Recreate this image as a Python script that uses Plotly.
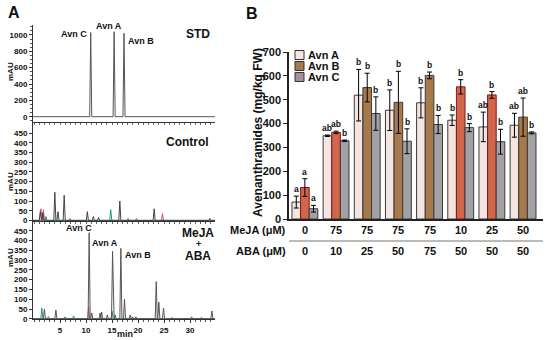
import plotly.graph_objects as go

W, H = 550, 340
FONT = "Arial, Liberation Sans, sans-serif"

# ---------------- Panel A data: chromatogram peaks (retention min, height mAU) ----------------
std_t = [10.9, 15.4, 17.3]
std_h = [1030, 1040, 1020]

ctrl_dark_t = [1.2, 1.7, 4.0, 4.6, 5.8, 10.25, 11.4, 12.4, 16.5, 23.1, 33.8]
ctrl_dark_h = [45, 40, 145, 45, 130, 45, 20, 15, 100, 60, 10]
ctrl_pink_t = [1.3, 1.8, 6.9, 19.7, 24.7]
ctrl_pink_h = [60, 55, 10, 10, 35]
ctrl_green_t = [2.3, 14.75, 18.1]
ctrl_green_h = [20, 55, 10]

mj_dark_t = [2.0, 4.2, 6.0, 10.6, 11.1, 12.7, 13.0, 14.1, 15.1, 15.6, 16.7, 17.4, 18.5, 18.9, 19.6, 23.5, 24.0, 24.9, 30.3, 32.2, 34.2]
mj_dark_h = [50, 45, 10, 440, 30, 30, 35, 20, 345, 20, 360, 100, 20, 10, 10, 190, 85, 55, 10, 8, 40]
mj_pink_t = [2.75, 10.5, 26.5]
mj_pink_h = [12, 60, 8]
mj_green_t = [1.5, 7.6, 15.0]
mj_green_h = [55, 15, 40]

# ---------------- Panel B data ----------------
meja = ["0", "75", "75", "75", "75", "10", "25", "50"]
aba = ["0", "10", "25", "50", "75", "50", "50", "50"]
avn_a = [71, 349, 519, 456, 487, 414, 386, 393]
avn_a_err = [25, 3, 108, 85, 63, 22, 62, 50]
avn_b = [132, 363, 551, 489, 602, 554, 520, 427]
avn_b_err = [37, 5, 60, 130, 14, 30, 14, 80]
avn_c = [43, 328, 442, 326, 396, 383, 324, 361]
avn_c_err = [14, 3, 70, 52, 38, 17, 52, 4]
let_a = ["a", "ab", "b", "b", "b", "b", "ab", "ab"]
let_b = ["a", "ab", "b", "b", "b", "b", "b", "ab"]
let_c = ["a", "b", "b", "b", "b", "b", "b", "b"]
b_is_red = [True, True, False, False, False, True, True, False]


def px(x):
    return x / W


def py(y):
    return 1 - y / H


def chrom(ts, hs, hw=0.2, t0=-0.2, t1=34.8):
    xs, ys = [t0], [0]
    for t, h in sorted(zip(ts, hs)):
        xs += [t - hw, t, t + hw]
        ys += [0, h, 0]
    xs.append(t1)
    ys.append(0)
    return xs, ys


fig = go.Figure()

panels = [
    ("x2", "y2", [(std_t, std_h, "#555555")]),
    ("x3", "y3", [(ctrl_pink_t, ctrl_pink_h, "#d9467a"), (ctrl_green_t, ctrl_green_h, "#1f9a78"),
                  (ctrl_dark_t, ctrl_dark_h, "#444444")]),
    ("x", "y", [(mj_pink_t, mj_pink_h, "#d9467a"), (mj_green_t, mj_green_h, "#1f9a78"),
                (mj_dark_t, mj_dark_h, "#555555")]),
]
for xa, ya, traces in panels:
    for ts, hs, col in traces:
        xs, ys = chrom(ts, hs)
        fig.add_trace(go.Scatter(x=xs, y=ys, mode="lines", line=dict(color=col, width=1),
                                 xaxis=xa, yaxis=ya, showlegend=False, hoverinfo="skip"))

# ---------------- Panel B bars ----------------
xpos = list(range(len(meja)))
b_fill = ["#d0674c" if r else "#a8794a" for r in b_is_red]
b_line = ["#8b1414" if r else "#3a3a3a" for r in b_is_red]
for vals, errs, fill, line, name in [
    (avn_a, avn_a_err, "#f5e5e1", "#3a3a3a", "Avn A"),
    (avn_b, avn_b_err, b_fill, b_line, "Avn B"),
    (avn_c, avn_c_err, "#a2a2a6", "#3a3a3a", "Avn C"),
]:
    fig.add_trace(go.Bar(x=xpos, y=vals, name=name, xaxis="x4", yaxis="y4",
                         marker=dict(color=fill, line=dict(color=line, width=1)),
                         error_y=dict(type="data", array=errs, color="black", thickness=1, width=2.5),
                         showlegend=False))

ann = []
bw = (1 - 0.17) / 3
for k, (vals, errs, lets) in enumerate([(avn_a, avn_a_err, let_a), (avn_b, avn_b_err, let_b),
                                         (avn_c, avn_c_err, let_c)]):
    for i in xpos:
        ann.append(dict(x=i + (k - 1) * bw, y=vals[i] + errs[i], xref="x4", yref="y4",
                        text="<b>%s</b>" % lets[i],
                        showarrow=False, yanchor="bottom", yshift=0,
                        font=dict(size=8.5, family=FONT, color="#111")))

for i in xpos:
    ann.append(dict(x=i, y=py(230), xref="x4", yref="paper", text="<b>%s</b>" % meja[i], showarrow=False,
                    font=dict(size=11, family=FONT, color="#111"), yanchor="middle"))
    ann.append(dict(x=i, y=py(251), xref="x4", yref="paper", text="<b>%s</b>" % aba[i], showarrow=False,
                    font=dict(size=11, family=FONT, color="#111"), yanchor="middle"))


def t(x, y, s, size, xanchor="center", color="#111"):
    ann.append(dict(x=px(x), y=py(y), xref="paper", yref="paper", text=s, showarrow=False,
                    xanchor=xanchor, yanchor="middle", font=dict(size=size, family=FONT, color=color)))


t(288, 230, "<b>MeJA (μM)</b>", 11, "right")
t(288, 251, "<b>ABA (μM)</b>", 11, "right")
t(14, 13, "<b>A</b>", 16)
t(252, 14, "<b>B</b>", 16)
t(89, 34, "<b>Avn C</b>", 9, "right")
t(109, 26, "<b>Avn A</b>", 9)
t(126, 41, "<b>Avn B</b>", 9, "left")
t(198, 34, "<b>STD</b>", 12)
t(187, 142, "<b>Control</b>", 12)
t(198, 233, "<b>MeJA</b>", 12)
t(198, 244, "<b>+</b>", 9)
t(198, 256, "<b>ABA</b>", 12)
t(79, 228, "<b>Avn C</b>", 9)
t(105, 243, "<b>Avn A</b>", 9)
t(138, 255, "<b>Avn B</b>", 9)
t(125, 334, "<b>min</b>", 9)
for yy in [72, 182, 258]:
    ann.append(dict(x=px(10), y=py(yy), xref="paper", yref="paper", text="<b>mAU</b>", textangle=-90,
                    showarrow=False, xanchor="center", yanchor="middle",
                    font=dict(size=8, family=FONT, color="#111")))
ann.append(dict(x=px(258), y=py(133), xref="paper", yref="paper", text="<b>Avenanthramides (mg/kg FW)</b>",
                textangle=-90, showarrow=False, xanchor="center", yanchor="middle",
                font=dict(size=12, family=FONT, color="#111")))

# manual legend
leg = [("Avn A", "#f5e5e1", 55), ("Avn B", "#a8794a", 66), ("Avn C", "#a3929a", 77)]
shapes = []
for name, col, yy in leg:
    shapes.append(dict(type="rect", xref="paper", yref="paper", x0=px(295), x1=px(304),
                       y0=py(yy + 4.5), y1=py(yy - 4.5), fillcolor=col, line=dict(color="#333", width=1)))
    t(306, yy, "<b>%s</b>" % name, 11, "left")

# separator line between MeJA and ABA rows
shapes.append(dict(type="line", xref="paper", yref="paper", x0=px(289), x1=px(543), y0=py(241), y1=py(241),
                   line=dict(color="#777", width=1)))

tickfont_a = dict(size=8, family=FONT, color="#111")
axis_common_a = dict(showline=True, linecolor="#333", linewidth=1, ticks="outside", ticklen=3,
                     tickcolor="#333", showgrid=False, zeroline=False, tickfont=tickfont_a, automargin=False)
xdom_a = [px(33), px(215)]
xr = [-0.2, 34.8]

fig.update_layout(
    width=W, height=H, margin=dict(l=0, r=0, t=0, b=0, pad=0), autosize=False,
    plot_bgcolor="white", paper_bgcolor="white", font=dict(family=FONT),
    barmode="group", bargap=0.17, bargroupgap=0,
    xaxis=dict(domain=xdom_a, range=xr, anchor="y", tickvals=[5, 10, 15, 20, 25, 30],
               ticktext=["<b>%d</b>" % v for v in [5, 10, 15, 20, 25, 30]],
               minor=dict(ticks="outside", ticklen=2, dtick=1, tickcolor="#555"),
               **axis_common_a),
    xaxis2=dict(domain=xdom_a, range=xr, anchor="y2", showticklabels=False, showline=True,
                linecolor="#333", linewidth=1, showgrid=False, zeroline=False, automargin=False,
                ticks="outside", ticklen=2, dtick=1, tickcolor="#666"),
    xaxis3=dict(domain=xdom_a, range=xr, anchor="y3", showticklabels=False, showline=True,
                linecolor="#333", linewidth=1, showgrid=False, zeroline=False, automargin=False,
                ticks="outside", ticklen=2, dtick=1, tickcolor="#666"),
    yaxis2=dict(domain=[py(122), py(25)], range=[-65, 1122], anchor="x2",
                tickvals=[0, 200, 400, 600, 800, 1000],
                ticktext=["<b>%d</b>" % v for v in [0, 200, 400, 600, 800, 1000]],
                minor=dict(ticks="outside", ticklen=2, dtick=50, tickcolor="#555"),
                **axis_common_a),
    yaxis3=dict(domain=[py(221), py(122)], range=[-3, 507], anchor="x3",
                tickvals=list(range(0, 451, 50)),
                ticktext=["<b>%d</b>" % v for v in range(0, 451, 50)],
                **axis_common_a),
    yaxis=dict(domain=[py(319), py(221)], range=[-1, 500], anchor="x",
               tickvals=list(range(0, 451, 50)),
               ticktext=["<b>%d</b>" % v for v in range(0, 451, 50)],
               **axis_common_a),
    xaxis4=dict(domain=[px(289), px(543)], range=[-0.51, 7.64], anchor="y4", showticklabels=False,
                showline=True, linecolor="#222", linewidth=1.5, ticks="", showgrid=False, zeroline=False,
                automargin=False),
    yaxis4=dict(domain=[py(219), py(52)], range=[0, 700], anchor="x4",
                tickvals=list(range(0, 701, 100)),
                ticktext=["<b>%d</b>" % v for v in range(0, 701, 100)],
                showline=True, linecolor="#222", linewidth=1.5, ticks="outside", ticklen=4,
                tickcolor="#222", showgrid=False, zeroline=False, automargin=False,
                tickfont=dict(size=11, family=FONT, color="#111")),
    annotations=ann, shapes=shapes,
)

fig.write_html("out.html", config={"displayModeBar": False},
               post_script="document.body.style.margin='0';document.body.style.padding='0';")
